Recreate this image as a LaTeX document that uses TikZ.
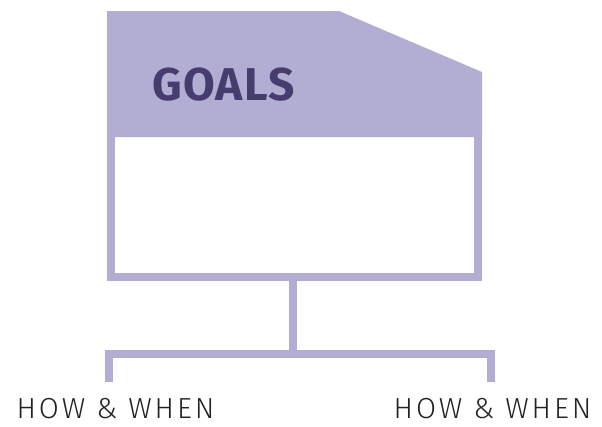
\documentclass[tikz,border=0pt]{standalone}
\usepackage{fontspec}
\setmainfont{Fira Sans}
\newfontfamily\lightfont[LetterSpace=10]{Fira Sans Light}
\newfontfamily\goalfont[LetterSpace=3]{Fira Sans}
\definecolor{goalfill}{HTML}{B2AED3}
\definecolor{goaltext}{HTML}{463D6E}
\definecolor{howtext}{HTML}{222222}
\begin{document}
\begin{tikzpicture}[x=1pt,y=-1pt,
  frame/.style={draw=goalfill,line width=8pt},
  howlabel/.style={anchor=base,inner sep=0pt,text=howtext,font=\lightfont\fontsize{29}{31}\selectfont},
  goallabel/.style={anchor=base west,inner sep=0pt,text=goaltext,font=\goalfont\bfseries\fontsize{46}{50}\selectfont}]
\useasboundingbox (0,0) rectangle (602,426);
% header
\fill[goalfill] (107,11) -- (339,11) -- (482,72) -- (482,137) -- (107,137) -- cycle;
\node[goallabel] (goals) at (152,100) {GOALS};
% body frame
\draw[frame] (111,137) -- (111,277) -- (478,277) -- (478,137);
\coordinate (boxbottom) at (293,281);
\coordinate (junction) at (293,354);
\coordinate (lefttop) at (109,354);
\coordinate (righttop) at (491,354);
\coordinate (leftend) at (109,382);
\coordinate (rightend) at (491,382);
\node[howlabel] (how1) at (115.5,418) {HOW \& WHEN};
\node[howlabel] (how2) at (492.5,418) {HOW \& WHEN};
\draw[frame] (boxbottom) -- (junction);
\draw[frame] (leftend) -- (lefttop) -- (righttop) -- (rightend);
\end{tikzpicture}
\end{document}
